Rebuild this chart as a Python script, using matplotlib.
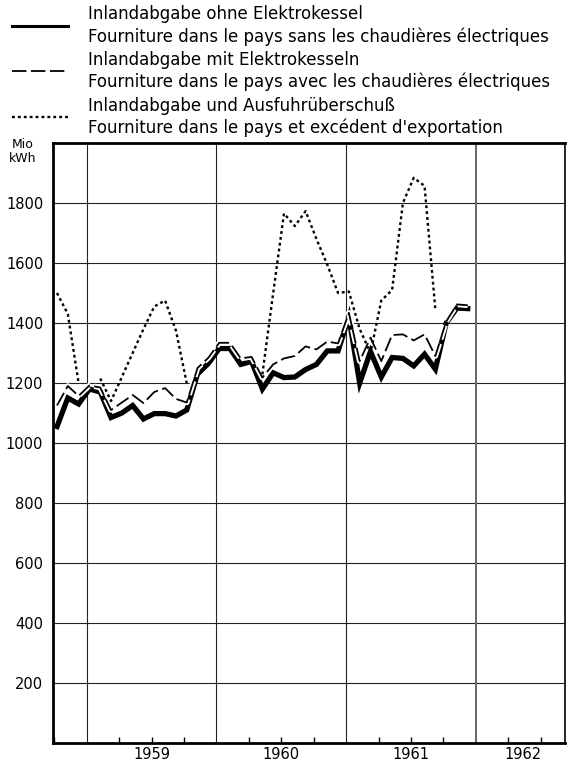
import numpy as np
import pandas as pd
import matplotlib
matplotlib.use("Agg")
import matplotlib.pyplot as plt
from matplotlib.lines import Line2D
import matplotlib.patheffects as pe

plt.rcParams['font.family'] = ['DejaVu Sans']

# monthly values, Oct 1958 - Dec 1961 (Mio kWh)
months = pd.period_range("1958-10", "1961-12", freq="M")

ohne_elektrokessel = [1055, 1150, 1130,
                      1180, 1170, 1085, 1100, 1125, 1080, 1098, 1098, 1090, 1110, 1230, 1265,
                      1315, 1315, 1262, 1272, 1180, 1234, 1218, 1220, 1245, 1262, 1307, 1307,
                      1420, 1200, 1305, 1220, 1285, 1282, 1257, 1296, 1246, 1400, 1450, 1448]

mit_elektrokesseln = [1125, 1190, 1157,
                      1192, 1185, 1110, 1135, 1160, 1133, 1170, 1183, 1147, 1135, 1250, 1284,
                      1334, 1334, 1282, 1287, 1218, 1262, 1282, 1290, 1322, 1312, 1338, 1332,
                      1434, 1273, 1351, 1273, 1360, 1362, 1342, 1362, 1290, 1405, 1462, 1459]

nan = np.nan
mit_ausfuhr = [1500, 1430, 1200,
               nan, 1215, 1140, 1220, 1300, 1380, 1455, 1475, 1375, 1200, nan, nan,
               nan, nan, nan, nan, 1229, 1500, 1765, 1723, 1773, 1680, 1595, 1500,
               1505, 1380, 1300, 1475, 1510, 1800, 1884, 1857, 1445, nan, nan, nan]

year_labels = ["1959", "1960", "1961", "1962"]
y_ticks = [200, 400, 600, 800, 1000, 1200, 1400, 1600, 1800]

legend_de = ["Inlandabgabe ohne Elektrokessel",
             "Inlandabgabe mit Elektrokesseln",
             "Inlandabgabe und Ausfuhrüberschuß"]
legend_fr = ["Fourniture dans le pays sans les chaudières électriques",
             "Fourniture dans le pays avec les chaudières électriques",
             "Fourniture dans le pays et excédent d'exportation"]

x = months.year + (months.month - 0.75) / 12.0

fig = plt.figure(figsize=(5.69, 7.71), dpi=100)
ax = fig.add_axes([53 / 569, 28 / 771, 512 / 569, 600 / 771])

ax.set_xlim(1958.74, 1962.687)
ax.set_ylim(0, 2000)

# grid
for v in y_ticks:
    ax.axhline(v, color='#222222', lw=0.8, zorder=1)
for yr in [1959, 1960, 1961]:
    ax.axvline(yr, color='#222222', lw=0.8, zorder=1)
ax.axvline(1962, color='#666666', lw=1.4, zorder=1)

solid_style = dict(color='black', lw=3.8, solid_joinstyle='miter')
dash_style = dict(color='black', lw=1.3, linestyle=(0, (8, 2.5)))
dot_style = dict(color='black', lw=1.7, linestyle=(0, (1.2, 1.3)))

ax.plot(x, ohne_elektrokessel, zorder=3, **solid_style)
ax.plot(x, mit_elektrokesseln, zorder=4,
        path_effects=[pe.withStroke(linewidth=4, foreground='white')], **dash_style)
ax.plot(x, mit_ausfuhr, zorder=5, **dot_style)

ax.set_yticks(y_ticks)
ax.set_yticklabels([str(v) for v in y_ticks], fontsize=10.5)
ax.tick_params(axis='y', length=0, pad=7)

ax.set_xticks([1959, 1960, 1961, 1962])
ax.set_xticklabels([])
ax.tick_params(axis='x', which='major', length=0)
ax.set_xticks([yr + q for yr in [1958, 1959, 1960, 1961, 1962] for q in (0.25, 0.5, 0.75)
               if 1958.74 < yr + q < 1962.687], minor=True)
ax.tick_params(axis='x', which='minor', direction='in', length=4, width=1)

label_pos = [1959.5, 1960.5, 1961.5, 1962.36]
for lbl, pos in zip(year_labels, label_pos):
    ax.text(pos, -0.006, lbl, transform=ax.get_xaxis_transform(),
            ha='center', va='top', fontsize=10.5)

for side in ['left', 'bottom', 'top']:
    ax.spines[side].set_linewidth(2)
ax.spines['right'].set_linewidth(1.2)

fig.text(23 / 569, 1 - 144 / 771, "Mio", ha='center', va='center', fontsize=9)
fig.text(23 / 569, 1 - 158 / 771, "kWh", ha='center', va='center', fontsize=9)

# legend
styles = [dict(color='black', lw=2.2), dash_style, dot_style]
sample_y = [26, 71, 117]
text_y = [(14, 37), (60, 82), (106, 128)]
for st, sy, (ty1, ty2), de, fr in zip(styles, sample_y, text_y, legend_de, legend_fr):
    fig.add_artist(Line2D([12 / 569, 68 / 569], [1 - sy / 771, 1 - sy / 771], **st))
    fig.text(88 / 569, 1 - ty1 / 771, de, ha='left', va='center', fontsize=12)
    fig.text(88 / 569, 1 - ty2 / 771, fr, ha='left', va='center', fontsize=12)

fig.savefig("out.png", dpi=100)
